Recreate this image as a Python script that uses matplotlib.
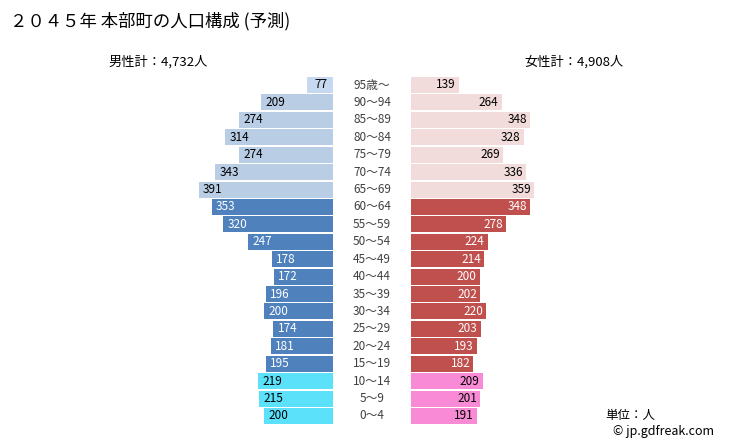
import matplotlib.pyplot as plt

plt.rcParams['font.family'] = ['Noto Sans CJK JP', 'DejaVu Sans']

ages = ["95歳～", "90～94", "85～89", "80～84", "75～79", "70～74", "65～69",
        "60～64", "55～59", "50～54", "45～49", "40～44", "35～39", "30～34",
        "25～29", "20～24", "15～19", "10～14", "5～9", "0～4"]
male = [77, 209, 274, 314, 274, 343, 391, 353, 320, 247, 178, 172, 196, 200,
        174, 181, 195, 219, 215, 200]
female = [139, 264, 348, 328, 269, 336, 359, 348, 278, 224, 214, 200, 202, 220,
          203, 193, 182, 209, 201, 191]

px = 0.343          # pixels per person
gap = 39 / px       # half gap between the two sides
xl, xr = -372 / px, (729 - 372) / px
row = 17.42
ylo, yhi = -85 / row, (446 - 85) / row


def colors(i, side):
    if i >= 17:
        return ("#5ce1fb", "black") if side == "m" else ("#f98bd6", "black")
    if i >= 7:
        return ("#4f81bd", "white") if side == "m" else ("#c0504d", "white")
    if side == "m":
        return ("#c6d9f1" if i == 0 else "#b9cde5"), "black"
    return "#f2dcdb", "black"


fig = plt.figure(figsize=(7.29, 4.46), dpi=100)
ax = fig.add_axes([0, 0, 1, 1])
ax.set_xlim(xl, xr)
ax.set_ylim(yhi, ylo)
ax.axis("off")

for i, (a, m, f) in enumerate(zip(ages, male, female)):
    c, tc = colors(i, "m")
    ax.barh(i, m, left=-gap - m, height=0.92, color=c)
    ax.text(-gap - m + 14 / px, i, str(m), ha="center", va="center",
            fontsize=8.5, color=tc)
    c, tc = colors(i, "f")
    ax.barh(i, f, left=gap, height=0.92, color=c)
    ax.text(gap + f - 13 / px, i, str(f), ha="center", va="center",
            fontsize=8.5, color=tc)
    ax.text(0, i, a, ha="center", va="center", fontsize=8.5, color="#404040")

fig.text(10 / 729, 1 - 21 / 446, "２０４５年 本部町の人口構成 (予測)", fontsize=12.5,
         va="center", ha="left")
fig.text(158 / 729, 1 - 62 / 446, "男性計：4,732人", fontsize=9.5,
         va="center", ha="center")
fig.text(574 / 729, 1 - 62 / 446, "女性計：4,908人", fontsize=9.5,
         va="center", ha="center")
fig.text(605 / 729, 1 - 416 / 446, "単位：人", fontsize=9,
         va="center", ha="left")
fig.text(613 / 729, 1 - 432 / 446, "© jp.gdfreak.com", fontsize=9,
         va="center", ha="left")

fig.savefig("out.png", dpi=100)
